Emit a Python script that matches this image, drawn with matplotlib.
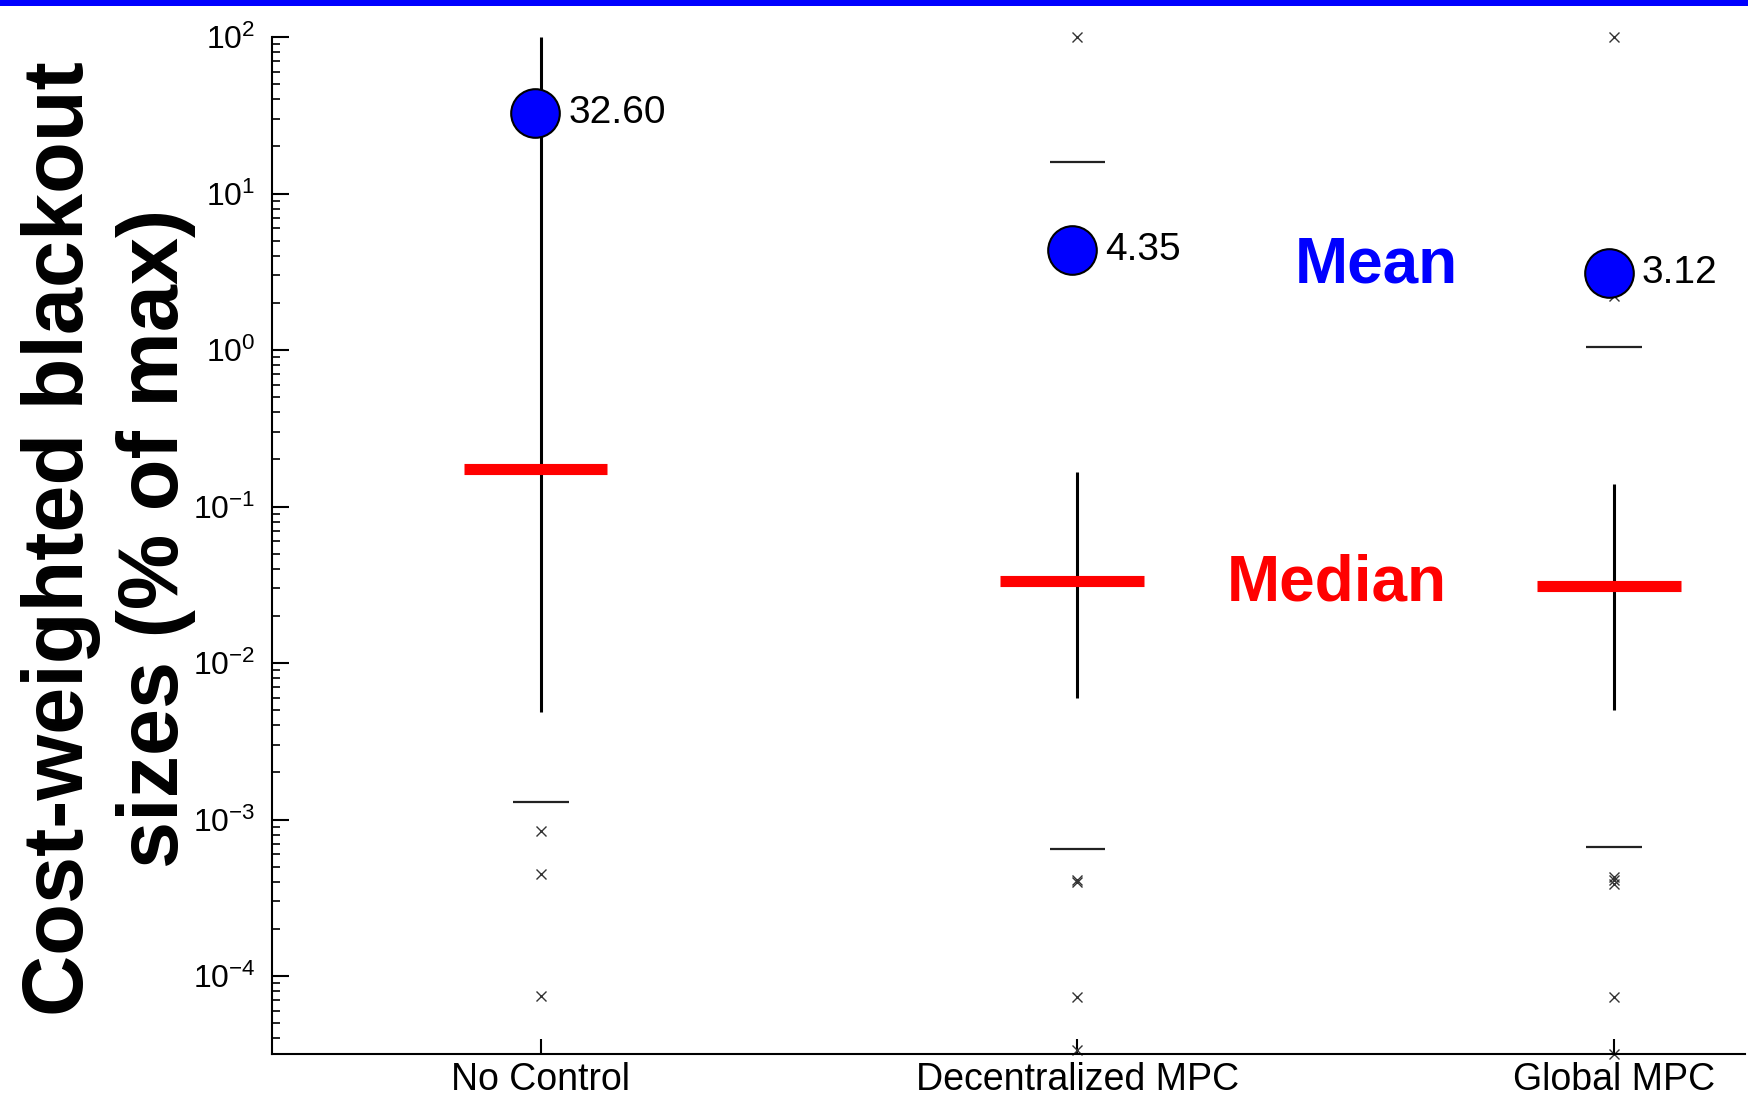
import numpy as np
import matplotlib
matplotlib.use("Agg")
import matplotlib.pyplot as plt
from matplotlib.patches import Rectangle
from matplotlib.ticker import LogLocator, FuncFormatter, NullFormatter

plt.rcParams["font.family"] = ["Liberation Sans", "DejaVu Sans"]
plt.rcParams["mathtext.default"] = "regular"

categories = ["No Control", "Decentralized MPC", "Global MPC"]
means = [32.60, 4.35, 3.12]
medians = [0.174, 0.0334, 0.031]
whisker_hi = [100.0, 0.167, 0.139]
whisker_lo = [0.0049, 0.0060, 0.0050]
pct_hi = [np.nan, 16.0, 1.05]
pct_lo = [0.0013, 6.5e-4, 6.7e-4]
outliers = [
    [8.4e-4, 4.5e-4, 7.5e-5],
    [100.0, 4.0e-4, 4.1e-4, 7.4e-5, 3.35e-5],
    [100.0, 2.2, 3.9e-4, 4.1e-4, 4.3e-4, 7.4e-5, 3.2e-5],
]

fig = plt.figure(figsize=(17.48, 10.99), dpi=100)
ax = fig.add_axes([0.1556, 0.0414, 0.8427, 0.9249])

pos = np.arange(1, len(categories) + 1)

# whiskers
ax.vlines(pos, whisker_lo, whisker_hi, color="black", linewidth=2.2, zorder=2)
# short percentile lines
ax.hlines(pct_hi, pos - 0.052, pos + 0.052, color="#222222", linewidth=1.6, zorder=2)
ax.hlines(pct_lo, pos - 0.052, pos + 0.052, color="#222222", linewidth=1.6, zorder=2)
# outliers
for p, vals in zip(pos, outliers):
    ax.plot([p] * len(vals), vals, linestyle="none", marker="x", markersize=7,
            markeredgewidth=1.0, color="#333333", clip_on=False, zorder=2)
# medians
ax.hlines(medians, pos - 0.144, pos + 0.124, color="#ff0000", linewidth=8, zorder=3)
# means
ax.plot(pos - 0.01, means, linestyle="none", marker="o", markersize=35,
        markerfacecolor="#0000ff", markeredgecolor="black", markeredgewidth=1.5,
        zorder=4)
for p, m in zip(pos, means):
    ax.annotate(f"{m:.2f}", (p, m), xytext=(20, 0), textcoords="offset points",
                ha="left", va="center", fontsize=28, color="black", zorder=5)

ax.text(2.557, 3.49, "Mean", color="#0000ff", fontsize=46, fontweight="bold",
        ha="center", va="center")
ax.text(2.484, 0.032, "Median", color="#ff0000", fontsize=46, fontweight="bold",
        ha="center", va="center")

ax.set_yscale("log")
ax.set_ylim(3.2e-5, 100)
ax.set_xlim(0.499, 3.244)
ax.set_xticks(pos)
ax.set_xticklabels(categories, fontsize=27)
ax.yaxis.set_major_locator(LogLocator(base=10, numticks=20))
ax.yaxis.set_minor_locator(LogLocator(base=10, subs=np.arange(2, 10), numticks=20))
ax.yaxis.set_major_formatter(FuncFormatter(lambda v, _: r"$10^{%d}$" % round(np.log10(v))))
ax.yaxis.set_minor_formatter(NullFormatter())
ax.tick_params(axis="y", which="major", direction="in", length=12, width=1.5,
               labelsize=23, pad=12)
ax.tick_params(axis="y", which="minor", direction="in", length=6, width=1.2)
ax.tick_params(axis="x", which="major", direction="in", length=11, width=1.5, pad=6)
ax.tick_params(axis="x", which="minor", bottom=False)

for side in ["top", "right"]:
    ax.spines[side].set_visible(False)
for side in ["left", "bottom"]:
    ax.spines[side].set_linewidth(1.5)

fig.text(0.062, 0.51, "Cost-weighted blackout\nsizes (% of max)", rotation=90,
         fontsize=61, fontweight="bold", ha="center", va="center",
         multialignment="center", linespacing=1.25)

fig.add_artist(Rectangle((0, 1 - 6 / 1099), 1, 6 / 1099, transform=fig.transFigure,
                         facecolor="#0000ff", edgecolor="none"))

fig.savefig("out.png", dpi=100)
